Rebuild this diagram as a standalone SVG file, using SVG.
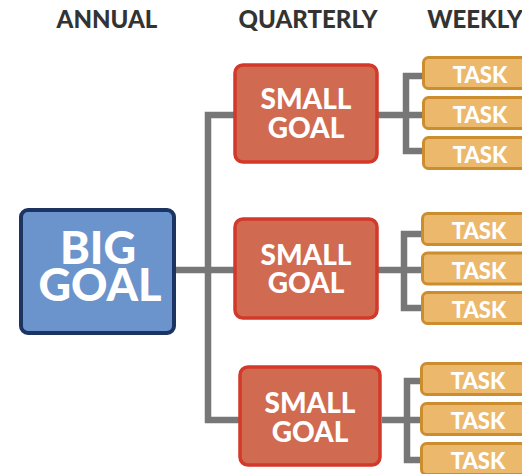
<svg xmlns="http://www.w3.org/2000/svg" width="522" height="474" viewBox="0 0 522 474">
<style>
text{font-family:Lato,"Open Sans","Liberation Sans",sans-serif;font-weight:900;text-anchor:middle}
.hdr{fill:#333;font-size:24px}
.big rect{fill:#6b94cd;stroke:#1c3461;stroke-width:4}
.big text{fill:#fff;font-size:45px}
.small rect{fill:#d06a51;stroke:#d3392a;stroke-width:3.5}
.small text{fill:#fff;font-size:28px}
.task rect{fill:#ecb96c;stroke:#cc8d2f;stroke-width:3}
.task text{fill:#fff;font-size:22px}
.conn path{fill:none;stroke:#777;stroke-width:6.5;stroke-linejoin:miter}
</style>
<g id="headers">
<text class="hdr" x="107" y="28">ANNUAL</text>
<text class="hdr" x="308" y="28">QUARTERLY</text>
<text class="hdr" x="475" y="28">WEEKLY</text>
</g>
<g id="connectors" class="conn">
<path d="M175,270 H235"/>
<path d="M235,115 H208 V420 H240"/>
<path d="M378,115 H423"/>
<path d="M423,76 H406 V151 H423"/>
<path d="M378,270 H422"/>
<path d="M422,234 H404 V308 H422"/>
<path d="M382,420 H422"/>
<path d="M422,381 H407 V460 H422"/>
</g>
<g id="big-goal" class="big">
<rect x="21" y="210" width="153" height="123" rx="7"/>
<text x="98" y="264">BIG</text>
<text x="100" y="301">GOAL</text>
</g>
<g id="small-goal-1" class="small">
<rect x="235" y="65" width="142" height="97" rx="8"/>
<text x="306" y="109">SMALL</text>
<text x="306" y="138">GOAL</text>
</g>
<g id="small-goal-2" class="small">
<rect x="235" y="219" width="142" height="99" rx="8"/>
<text x="306" y="265">SMALL</text>
<text x="306" y="293">GOAL</text>
</g>
<g id="small-goal-3" class="small">
<rect x="240" y="367" width="140" height="98" rx="8"/>
<text x="310" y="413">SMALL</text>
<text x="310" y="442">GOAL</text>
</g>
<g id="task-1-1" class="task"><rect x="423.5" y="57.5" width="110" height="31" rx="5"/><text x="480" y="83">TASK</text></g>
<g id="task-1-2" class="task"><rect x="423.5" y="97.5" width="110" height="31" rx="5"/><text x="480" y="123">TASK</text></g>
<g id="task-1-3" class="task"><rect x="423.5" y="137.5" width="110" height="31" rx="5"/><text x="480" y="163">TASK</text></g>
<g id="task-2-1" class="task"><rect x="422.5" y="213.5" width="110" height="31" rx="5"/><text x="479" y="239">TASK</text></g>
<g id="task-2-2" class="task"><rect x="422.5" y="253" width="110" height="31" rx="5"/><text x="479" y="279">TASK</text></g>
<g id="task-2-3" class="task"><rect x="422.5" y="292.5" width="110" height="31" rx="5"/><text x="479" y="318">TASK</text></g>
<g id="task-3-1" class="task"><rect x="421.5" y="363.5" width="110" height="31" rx="5"/><text x="478" y="389">TASK</text></g>
<g id="task-3-2" class="task"><rect x="421.5" y="403.5" width="110" height="31" rx="5"/><text x="478" y="429">TASK</text></g>
<g id="task-3-3" class="task"><rect x="421.5" y="443.5" width="110" height="31" rx="5"/><text x="478" y="469">TASK</text></g>
</svg>
